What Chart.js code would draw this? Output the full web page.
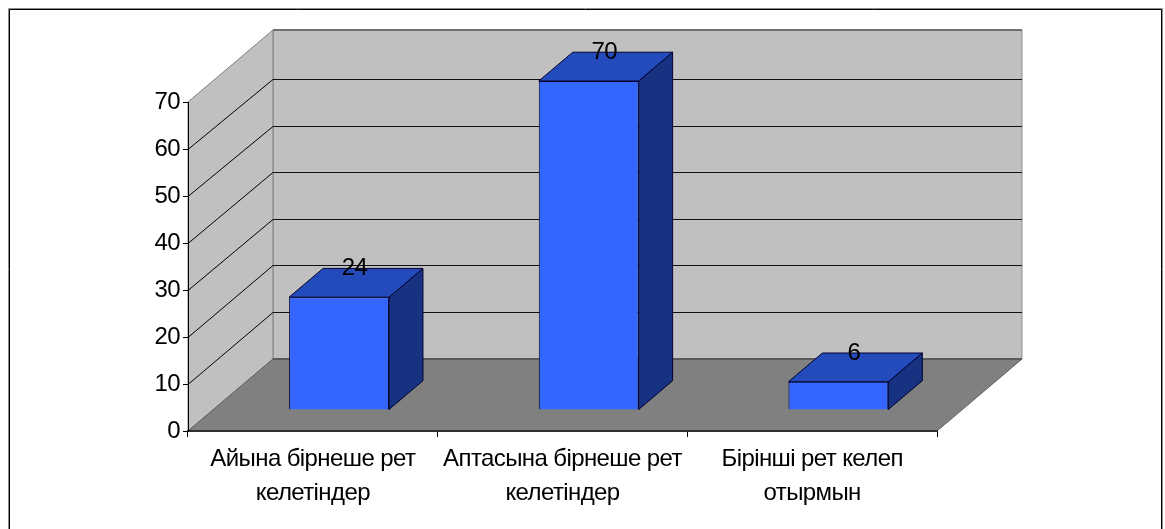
<!DOCTYPE html>
<html>
<head>
<meta charset="utf-8">
<style>
  html, body { margin: 0; padding: 0; background: #ffffff; }
  canvas { display: block; }
</style>
<script src="https://cdn.jsdelivr.net/npm/chart.js@4"></script>
</head>
<body>
<canvas id="chart" width="1165" height="529"></canvas>
<script>
const categories = [
    ["Айына бірнеше рет", "келетіндер"],
    ["Аптасына бірнеше рет", "келетіндер"],
    ["Бірінші рет келеп", "отырмын"]
];
const visits = [24, 70, 6];
const yTicks = [0, 10, 20, 30, 40, 50, 60, 70];

// Oblique projection of the box: how far the back wall sits from the front plane
const DEPTH_X = 85;
const DEPTH_Y = 72;
// The back wall's value scale is very slightly shorter than the front one
const BACK_SCALE = 0.99;
// Bars stand on the floor between 30% and 70% of its depth
const BAR_OFFSET_X = 26.2;
const BAR_OFFSET_Y = 21;
const BAR_DEPTH = 0.4;

const FONT = '"Liberation Sans", Arial, sans-serif';

function fillPoly(ctx, points, fill, stroke) {
    ctx.beginPath();
    points.forEach((p, i) => i ? ctx.lineTo(p[0], p[1]) : ctx.moveTo(p[0], p[1]));
    ctx.closePath();
    ctx.fillStyle = fill;
    ctx.fill();
    if (stroke) {
        ctx.strokeStyle = stroke;
        ctx.lineWidth = 1;
        ctx.stroke();
    }
}

function strokeLine(ctx, color, width, x0, y0, x1, y1) {
    ctx.strokeStyle = color;
    ctx.lineWidth = width;
    ctx.beginPath();
    ctx.moveTo(x0, y0);
    ctx.lineTo(x1, y1);
    ctx.stroke();
}

function strokeFrame(ctx, color, x0, y0, x1, y1) {
    ctx.strokeStyle = color;
    ctx.lineWidth = 1;
    ctx.beginPath();
    ctx.moveTo(x0, y1);
    ctx.lineTo(x0, y0);
    ctx.lineTo(x1, y0);
    ctx.lineTo(x1, y1);
    ctx.stroke();
}

const box3d = {
    id: "box3d",
    // Frame, walls, floor and the gridlines that wrap around the walls
    beforeDraw(chart) {
        const ctx = chart.ctx;
        const { left, right, top, bottom } = chart.chartArea;
        const y = chart.scales.y;
        // Tightens all chart text; stays on the context for the axes too
        ctx.letterSpacing = "-0.6px";
        ctx.save();
        ctx.fillStyle = "#ffffff";
        ctx.fillRect(0, 0, chart.width, chart.height);
        strokeFrame(ctx, "#8c8c8c", 8.5, 8.5, 1162.5, chart.height);
        strokeFrame(ctx, "#000000", 9.5, 9.5, 1161.5, chart.height);

        const bx = left + DEPTH_X;
        const rx = right + DEPTH_X;
        const ty = top - DEPTH_Y;
        const by = bottom - DEPTH_Y;
        fillPoly(ctx, [[bx, ty], [rx, ty], [rx, by], [bx, by]], "#c0c0c0", "#909090");
        fillPoly(ctx, [[left, top], [bx, ty], [bx, by], [left, bottom]], "#c0c0c0", "#808080");
        fillPoly(ctx, [[left, bottom], [bx, by], [rx, by], [right, bottom]], "#808080", "#606060");
        strokeLine(ctx, "#707070", 2, bx, ty, rx, ty);
        strokeLine(ctx, "#5a5a5a", 2, bx, by, rx, by);

        yTicks.slice(1, -1).forEach(v => {
            const py = Math.round(y.getPixelForValue(v)) + 0.5;
            const backY = Math.round(by - 1 + (py - bottom) * BACK_SCALE) + 0.5;
            strokeLine(ctx, "#000000", 1, left, py, bx, backY);
            strokeLine(ctx, "#101010", 1, bx, backY, rx, backY);
        });
        ctx.restore();
    },
    // Side and top faces go down first, then the library paints the front faces shifted onto the floor
    beforeDatasetsDraw(chart) {
        const ctx = chart.ctx;
        const dx = DEPTH_X * BAR_DEPTH;
        const dy = DEPTH_Y * BAR_DEPTH;
        ctx.save();
        ctx.translate(BAR_OFFSET_X, -BAR_OFFSET_Y);
        chart.getDatasetMeta(0).data.forEach(bar => {
            const l = bar.x - bar.width / 2;
            const r = bar.x + bar.width / 2;
            fillPoly(ctx, [[r, bar.y], [r + dx, bar.y - dy], [r + dx, bar.base - dy], [r, bar.base]], "#183282", "#000030");
            fillPoly(ctx, [[l, bar.y], [l + dx, bar.y - dy], [r + dx, bar.y - dy], [r, bar.y]], "#234bbb", "#000030");
        });
    },
    afterDatasetsDraw(chart) {
        const ctx = chart.ctx;
        ctx.restore();
        ctx.save();
        ctx.font = "24px " + FONT;
        ctx.fillStyle = "#000000";
        ctx.textAlign = "center";
        ctx.textBaseline = "middle";
        const shiftX = BAR_OFFSET_X + DEPTH_X * BAR_DEPTH / 2 - 1.5;
        const shiftY = BAR_OFFSET_Y + DEPTH_Y * BAR_DEPTH;
        chart.getDatasetMeta(0).data.forEach((bar, i) => {
            ctx.fillText(String(visits[i]), bar.x + shiftX, bar.y - shiftY);
        });
        ctx.restore();
    }
};

new Chart(document.getElementById("chart"), {
    type: "bar",
    data: {
        labels: categories,
        datasets: [{
            data: visits,
            backgroundColor: "#3366ff",
            borderColor: "#000030",
            borderWidth: 1,
            categoryPercentage: 1,
            barPercentage: 0.4
        }]
    },
    options: {
        responsive: false,
        animation: false,
        layout: { padding: { top: 102, right: 228, bottom: 0, left: 0 } },
        plugins: { legend: { display: false }, tooltip: { enabled: false } },
        scales: {
            x: {
                afterFit: s => { s.height = 98; },
                border: { color: "#303030", width: 2 },
                grid: { offset: true, drawOnChartArea: false, drawTicks: true, tickLength: 6, color: "#000000" },
                ticks: {
                    color: "#000000",
                    autoSkip: false,
                    maxRotation: 0,
                    padding: 6,
                    font: { family: FONT, size: 24, lineHeight: 1.4 }
                }
            },
            y: {
                min: 0,
                max: 70,
                afterFit: s => { s.width = 188; },
                afterBuildTicks: s => { s.ticks = yTicks.map(v => ({ value: v })); },
                border: { color: "#000000", width: 1 },
                grid: { drawOnChartArea: false, drawTicks: true, tickLength: 5, color: "#000000" },
                ticks: {
                    color: "#000000",
                    padding: 3,
                    font: { family: FONT, size: 24 }
                }
            }
        }
    },
    plugins: [box3d]
});
</script>
</body>
</html>
